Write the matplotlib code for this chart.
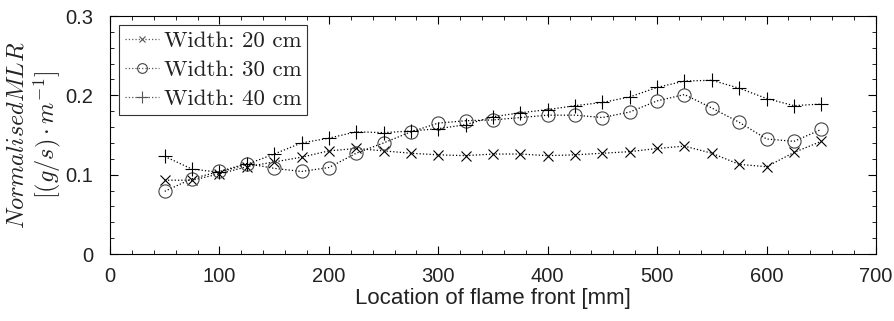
import matplotlib
matplotlib.use("Agg")
import matplotlib.pyplot as plt
from matplotlib.ticker import MultipleLocator

plt.rcParams["font.family"] = ["Liberation Sans", "DejaVu Sans"]
plt.rcParams["mathtext.fontset"] = "cm"

location = [50, 75, 100, 125, 150, 175, 200, 225, 250, 275, 300, 325, 350,
            375, 400, 425, 450, 475, 500, 525, 550, 575, 600, 625, 650]
mlr_20 = [0.093, 0.093, 0.101, 0.110, 0.116, 0.122, 0.130, 0.133, 0.130, 0.127,
          0.125, 0.124, 0.126, 0.126, 0.124, 0.125, 0.127, 0.129, 0.133, 0.136,
          0.127, 0.113, 0.110, 0.128, 0.142]
mlr_30 = [0.079, 0.095, 0.104, 0.114, 0.108, 0.104, 0.109, 0.127, 0.140, 0.154,
          0.165, 0.168, 0.169, 0.172, 0.175, 0.175, 0.172, 0.179, 0.193, 0.201,
          0.184, 0.166, 0.145, 0.142, 0.157]
mlr_40 = [0.123, 0.107, 0.103, 0.113, 0.126, 0.140, 0.146, 0.154, 0.153, 0.155,
          0.158, 0.163, 0.173, 0.178, 0.182, 0.187, 0.191, 0.198, 0.210, 0.218,
          0.219, 0.209, 0.196, 0.187, 0.189]
labels = ["Width: 20 cm", "Width: 30 cm", "Width: 40 cm"]

W, H = 894, 321
fig = plt.figure(figsize=(W / 100, H / 100), dpi=100)
ax = fig.add_axes([110 / W, 1 - 254 / H, (876 - 110) / W, (254 - 16) / H])

style = dict(linestyle=":", color="black", linewidth=0.9, markeredgewidth=0.8)
ax.plot(location, mlr_20, marker="x", markersize=7, label=labels[0], **style)
ax.plot(location, mlr_30, marker="o", markersize=9.5, markerfacecolor="none",
        markeredgecolor="#444444", label=labels[1], **style)
ax.plot(location, mlr_40, marker="+", markersize=10, label=labels[2], **style)

ax.set_xlim(0, 700)
ax.set_ylim(0, 0.3)
ax.xaxis.set_major_locator(MultipleLocator(100))
ax.xaxis.set_minor_locator(MultipleLocator(20))
ax.set_yticks([0, 0.1, 0.2, 0.3], ["0", "0.1", "0.2", "0.3"])
ax.yaxis.set_minor_locator(MultipleLocator(0.02))
ax.tick_params(which="both", direction="in", top=True, right=True,
               labelsize=14.5, labelcolor="#222222")
ax.tick_params(which="major", length=6, width=0.8)
ax.tick_params(which="minor", length=3, width=0.6)
ax.tick_params(axis="x", pad=9)
ax.tick_params(axis="y", pad=12)

ax.set_xlabel("Location of flame front [mm]", fontsize=16, labelpad=2,
              color="#222222")
ax.set_ylabel("$Normalised MLR$\n$[(g/s)\\cdot m^{-1}]$", fontsize=17.5,
              linespacing=1.1, labelpad=2, color="#222222")

leg = ax.legend(loc="upper left", prop={"family": "cmr10", "size": 16.5},
                fancybox=False, framealpha=1, edgecolor="#333333",
                handlelength=1.5, handletextpad=0.2, borderpad=0.25,
                labelspacing=0.4, borderaxespad=0.4)
leg.get_frame().set_linewidth(0.8)
for text in leg.get_texts():
    text.set_color("#222222")
for handle, ms in zip(leg.legend_handles, [5, 7, 8]):
    handle.set_markersize(ms)
    handle.set_color("#555555")

fig.savefig("out.png", dpi=100)
